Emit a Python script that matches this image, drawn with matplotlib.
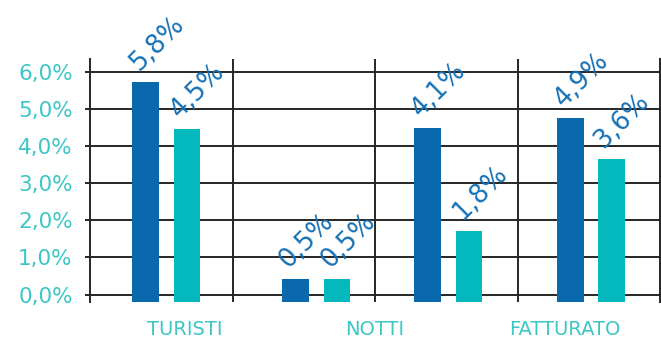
import matplotlib
matplotlib.use("Agg")
import matplotlib.pyplot as plt
from matplotlib.ticker import FuncFormatter

# ---- data ----
categories = ["TURISTI", "NOTTI", "FATTURATO"]
series_a = [5.72, 0.43, 4.49, 4.75]          # dark blue bars
series_b = [4.46, 0.43, 1.71, 3.65]          # teal bars
labels_a = ["5,8%", "0,5%", "4,1%", "4,9%"]
labels_b = ["4,5%", "0,5%", "1,8%", "3,6%"]
y_ticks = [0, 1, 2, 3, 4, 5, 6]

# ---- layout / style ----
n_groups = len(series_a)
offs_a = [-0.111, -0.059, -0.130, -0.129]
offs_b = [0.179, 0.232, 0.158, 0.158]
bar_w = 0.186
base = -0.2
col_a = "#0a68ad"
col_b = "#04b9bd"
col_txt = "#1570b5"
col_tick = "#3cc6c6"
col_grid = "#262626"

fig = plt.figure(figsize=(6.61, 3.45), dpi=100)
ax = fig.add_axes([90 / 661, 1 - 302 / 345, 570 / 661, 243 / 345])

xa = [i + 0.5 + o for i, o in enumerate(offs_a)]
xb = [i + 0.5 + o for i, o in enumerate(offs_b)]
ax.bar(xa, [v - base for v in series_a], bottom=base, width=bar_w, color=col_a, zorder=3)
ax.bar(xb, [v - base for v in series_b], bottom=base, width=bar_w, color=col_b, zorder=3)

for x, v, t in list(zip(xa, series_a, labels_a)) + list(zip(xb, series_b, labels_b)):
    ax.annotate(t, (x, v), xytext=(-5, 7), textcoords="offset points",
                rotation=45, rotation_mode="anchor", ha="left", va="baseline",
                fontsize=18.5, color=col_txt, zorder=4)

ax.set_xlim(0, n_groups)
ax.set_ylim(base, 6.34)

ax.set_yticks(y_ticks)
ax.yaxis.set_major_formatter(FuncFormatter(lambda v, p: f"{v:.1f}".replace(".", ",") + "%"))
ax.tick_params(axis="y", length=3.5, width=1.4, color=col_grid, labelcolor=col_tick,
               labelsize=15.5, pad=9)
ax.yaxis.grid(True, color=col_grid, linewidth=1.4, zorder=1)

ncat = len(categories)
ax.set_xticks([(i + 0.5) * n_groups / ncat for i in range(ncat)])
ax.set_xticklabels(categories)
ax.tick_params(axis="x", length=0, labelcolor=col_tick, labelsize=14, pad=13)
for b in range(1, n_groups):
    ax.axvline(b, color=col_grid, linewidth=1.4, zorder=1)

for s in ["top", "bottom"]:
    ax.spines[s].set_visible(False)
for s in ["left", "right"]:
    ax.spines[s].set_color(col_grid)
    ax.spines[s].set_linewidth(1.4)
ax.set_axisbelow(True)

fig.savefig("out.png", dpi=100)
